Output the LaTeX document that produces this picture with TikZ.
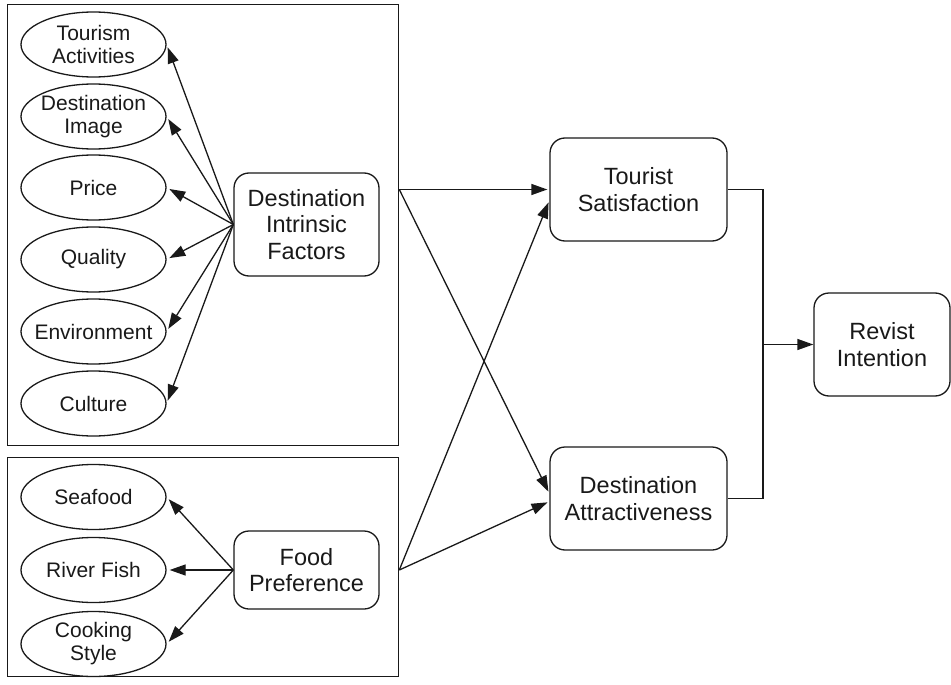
\documentclass[tikz,border=0pt]{standalone}
\usepackage{fontspec}
\setmainfont{Liberation Sans}
\usetikzlibrary{arrows.meta,shapes.geometric}
\definecolor{ink}{RGB}{25,25,25}
\begin{document}
\begin{tikzpicture}[x=1pt,y=-1pt,
  every path/.style={line width=1.3pt},
  ell/.style={draw=ink, ellipse, minimum width=145pt, minimum height=65pt, inner sep=0pt},
  elltext/.style={align=center, text=ink, inner sep=0pt, font=\fontsize{21}{23}\selectfont},
  rbox/.style={draw=ink, rounded corners=15pt, minimum height=103pt, inner sep=0pt, align=center, text=ink, font=\fontsize{23.5}{26.5}\selectfont},
  frame/.style={draw=ink, anchor=north west, inner sep=0pt},
  arr/.style={draw=ink, -{Triangle[length=16pt,width=11pt]}, shorten >=2pt},
  link/.style={draw=ink}]
\useasboundingbox (0,0) rectangle (951,685);
% frames
\node[frame, minimum width=391pt, minimum height=440.5pt] (box1) at (7,4) {};
\node[frame, minimum width=391pt, minimum height=219pt] (box2) at (7,457) {};
% ellipses
\node[ell] (e1) at (93.5,44.5) {};
\node[elltext] at (e1) {Tourism\\Activities};
\node[ell] (e2) at (93.5,116.5) {};
\node[elltext] at (e2) {Destination\\Image};
\node[ell] (e3) at (93.5,187.5) {};
\node[elltext] at (e3) {Price};
\node[ell] (e4) at (93.5,259.5) {};
\node[elltext] at (e4) {Quality};
\node[ell] (e5) at (93.5,331.5) {};
\node[elltext] at (e5) {Environment};
\node[ell] (e6) at (93.5,403.5) {};
\node[elltext] at (e6) {Culture};
\node[ell] (f1) at (93.5,497) {};
\node[elltext] at (f1) {Seafood};
\node[ell] (f2) at (93.5,570) {};
\node[elltext] at (f2) {River Fish};
\node[ell] (f3) at (93.5,644) {};
\node[elltext] at (f3) {Cooking\\Style};
% boxes
\node[rbox, minimum width=145pt] (dif) at (306.5,224.5) {Destination\\Intrinsic\\Factors};
\node[rbox, minimum width=145pt, minimum height=78pt] (fp) at (306.5,570) {Food\\Preference};
\node[rbox, minimum width=177pt] (ts) at (638.5,189.5) {Tourist\\Satisfaction};
\node[rbox, minimum width=177pt] (da) at (638.5,498.5) {Destination\\Attractiveness};
\node[rbox, minimum width=136pt] (ri) at (882,344.5) {Revist\\Intention};
% arrows inside frames
\foreach \e in {e1,e2,e3,e4,e5,e6} \draw[arr, shorten >=3pt] (dif.west) -- (\e.east);
\foreach \e in {f1,f2,f3} \draw[arr, shorten >=3pt] (fp.west) -- (\e.east);
% cross connectors
\coordinate (s1) at (box1.east |- ts.west);
\coordinate (s2) at (box2.east |- fp.west);
\draw[arr] (s1) -- (ts.west);
\draw[arr] (s1) -- ([yshift=5pt]da.west);
\draw[arr] (s2) -- ([yshift=-11pt]ts.west);
\draw[arr] (s2) -- ([yshift=-3pt]da.west);
% merge to revisit intention
\coordinate (jx) at (763,0);
\draw[link] (ts.east) -- (ts.east -| jx) -- (da.east -| jx) -- (da.east);
\draw[arr, shorten >=0pt] (ri.west -| jx) -- (ri.west);
\end{tikzpicture}
\end{document}
